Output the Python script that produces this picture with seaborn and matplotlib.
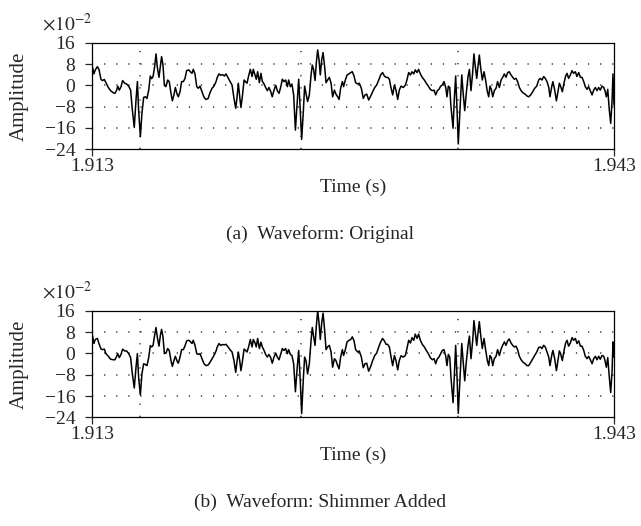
import numpy as np
import pandas as pd
import matplotlib
matplotlib.use('Agg')
import matplotlib.pyplot as plt
import seaborn as sns

# ============================
# 数据（幅值单位: 1e-2，时间单位: ms，起点 1.913 s）
# ============================
t_start = 1.913
t_end = 1.943

t_ms = [
    0.00, 0.11, 0.19, 0.31, 0.40, 0.52, 0.61, 0.71, 0.80, 0.94,
    1.07, 1.23, 1.32, 1.42, 1.48, 1.57, 1.67, 1.76, 1.88, 1.99,
    2.11, 2.22, 2.32, 2.43, 2.53, 2.61, 2.68, 2.78, 2.87, 2.97,
    3.07, 3.16, 3.26, 3.35, 3.43, 3.51, 3.60, 3.68, 3.75, 3.85,
    3.93, 4.00, 4.08, 4.16, 4.25, 4.35, 4.44, 4.54, 4.62, 4.71,
    4.79, 4.89, 4.96, 5.06, 5.15, 5.25, 5.34, 5.44, 5.56, 5.65,
    5.75, 5.82, 5.92, 6.02, 6.11, 6.21, 6.32, 6.44, 6.55, 6.67,
    6.78, 6.90, 7.01, 7.13, 7.20, 7.30, 7.39, 7.51, 7.61, 7.70,
    7.82, 7.93, 8.05, 8.16, 8.26, 8.33, 8.41, 8.49, 8.56, 8.64,
    8.74, 8.83, 8.91, 9.00, 9.10, 9.20, 9.27, 9.37, 9.44, 9.52,
    9.62, 9.71, 9.79, 9.89, 9.98, 10.08, 10.17, 10.27, 10.36, 10.46,
    10.56, 10.65, 10.75, 10.84, 10.94, 11.03, 11.13, 11.23, 11.30, 11.40,
    11.49, 11.59, 11.69, 11.78, 11.88, 11.97, 12.05, 12.15, 12.22, 12.30,
    12.39, 12.49, 12.59, 12.66, 12.74, 12.82, 12.89, 12.97, 13.05, 13.12,
    13.20, 13.28, 13.37, 13.45, 13.54,
    13.64, 13.74, 13.83, 13.93, 14.02, 14.12, 14.20, 14.29, 14.39, 14.46,
    14.56, 14.66, 14.77, 14.87, 14.96, 15.06, 15.15, 15.27, 15.36, 15.48,
    15.59, 15.69, 15.79, 15.90, 16.02, 16.13, 16.25, 16.36, 16.48, 16.59,
    16.70, 16.80, 16.90, 16.99, 17.09, 17.18, 17.28, 17.38, 17.47, 17.57,
    17.66, 17.76, 17.89, 18.01, 18.10, 18.20, 18.30, 18.39, 18.49, 18.58,
    18.68, 18.77, 18.87, 18.98, 19.10, 19.21, 19.33, 19.44, 19.56, 19.66,
    19.75, 19.85, 19.94, 20.04, 20.13, 20.23, 20.33, 20.40, 20.48, 20.56,
    20.63, 20.75, 20.82, 20.90, 20.98, 21.05, 21.15, 21.25, 21.34, 21.42,
    21.51, 21.61, 21.69, 21.78, 21.88, 21.95, 22.03, 22.11, 22.18, 22.26,
    22.34, 22.43, 22.53, 22.62, 22.72, 22.80, 22.87, 22.95, 23.03, 23.12,
    23.22, 23.31, 23.41, 23.51, 23.60, 23.70, 23.79, 23.89, 23.98, 24.08,
    24.18, 24.27, 24.37, 24.46, 24.56, 24.66, 24.77, 24.89, 25.00, 25.10,
    25.21, 25.33, 25.44, 25.56, 25.67, 25.77, 25.86, 25.96, 26.05, 26.15,
    26.25, 26.32, 26.42, 26.49, 26.59, 26.69, 26.78, 26.86, 26.93, 27.03,
    27.13, 27.22, 27.30, 27.39, 27.49, 27.59, 27.68, 27.78, 27.87, 27.97,
    28.07, 28.16, 28.26, 28.35, 28.45, 28.54, 28.64, 28.74, 28.83, 28.93,
    29.02, 29.12, 29.21, 29.31, 29.41, 29.48, 29.56, 29.64, 29.73, 29.81,
    29.89, 29.94, 30.00,
]

amp_orig = [
    7.6, 4.3, 5.8, 7.0, 6.0, 2.2, 1.8, 2.2, 1.0, -0.8,
    -2.0, -2.8, -3.0, -1.8, -0.3, -1.8, -0.5, 1.8, 0.8, 0.5,
    -0.3, -1.8, -9.3, -15.8, -5.5, 1.4, -9.3, -19.3, -10.5, -4.5,
    -4.3, -4.9, -1.8, 3.5, 2.5, 3.3, 7.0, 11.8, 7.0, 3.0,
    7.0, 10.8, 7.6, 0.0, -0.5, 2.0, 1.4, -3.0, -5.8, -3.6,
    -0.8, -3.3, -4.3, -2.4, 1.4, 1.4, 2.5, 5.5, 5.8, 5.1,
    4.5, 6.0, 4.3, -0.5, -1.1, -0.3, -2.4, -4.5, -5.3, -5.0,
    -2.8, -1.1, -0.3, 1.4, 3.0, 4.3, 3.8, 4.0, 3.5, 4.3,
    2.8, 1.5, 0.1, -4.9, -8.6, -4.9, 0.8, -4.3, -8.3, -4.3,
    2.0, 1.3, 0.8, 3.5, 6.0, 3.3, 6.0, 3.9, 2.3, 5.1,
    1.0, 4.5, 1.5, 0.5, -0.8, -2.0, -0.8, -2.3, -4.3, -1.8,
    0.0, -2.0, -3.0, -0.8, 2.3, 1.4, 2.0, -0.5, 2.0, -0.5,
    0.5, -3.6, -16.8, -8.0, 2.3, -9.3, -20.3, -9.3, -0.3, -3.0,
    -6.1, -3.6, 3.9, 7.6, 5.8, 1.8, 8.3, 13.3, 9.5, 3.9,
    9.5, 12.3, 7.0, 1.0, 2.0,
    3.0, 0.8, -4.3, -1.8, -3.3, -4.3, -5.3, -1.1, 1.4, -0.5,
    2.0, 3.9, 4.3, 4.8, 5.1, 3.5, 1.0, 0.5, 0.8, -1.1,
    -4.9, -3.6, -3.3, -5.5, -4.0, -2.4, -0.8, 0.1, 2.0, 3.9,
    4.8, 3.5, 3.0, 3.0, 2.3, -0.8, -3.6, 0.1, -1.8, -5.3,
    -1.8, -0.3, -0.8, 0.1, 2.0, 4.8, 3.9, 5.1, 4.3, 5.8,
    4.8, 6.0, 4.3, 3.0, 2.0, 0.8, -0.3, -1.5, -2.0, -1.8,
    -3.6, -2.0, -1.5, -0.3, 0.1, 1.4, -0.8, -4.3, -0.3, -0.8,
    -8.0, -16.1, -5.5, 3.5, -9.3, -22.0, -9.3, 3.9, -3.6, -9.5,
    -3.0, 3.3, 6.0, -2.0, 5.1, 11.8, 7.0, 2.6, 7.0, 11.4,
    6.4, 2.0, 5.1, 2.0, -2.4, -4.3, -0.3, -1.5, -4.3, -2.0,
    -1.1, 1.4, -0.8, 2.0, 3.0, 4.3, 3.0, 4.8, 5.1, 3.9,
    3.0, 2.3, 2.6, 1.4, -0.8, -2.0, -2.8, -3.3, -4.0, -4.3,
    -3.6, -2.4, -1.1, -0.3, 2.0, 2.6, 2.0, 3.3, 2.6, 1.4,
    -0.8, -4.3, -0.5, 1.4, -1.8, -5.8, -2.4, 0.8, -0.3, -2.4,
    1.0, 3.5, 4.5, 2.6, 3.9, 5.5, 4.5, 5.1, 3.3, 4.8,
    3.0, 3.0, 1.4, -0.5, -1.5, -0.5, -2.0, -3.6, -1.8, -0.8,
    -2.0, -0.8, -1.8, -0.3, -0.8, -2.0, -4.3, -1.5, -9.3, -14.3,
    -5.5, 4.3, -7.4,
]

amp_shimmer = [
    7.7, 3.7, 5.2, 5.6, 3.7, 1.6, 1.4, 1.6, -0.1, -1.1,
    -2.2, -2.4, -2.4, -1.1, -0.1, -1.6, -0.4, 1.6, 0.9, 0.9,
    -0.1, -1.6, -7.7, -13.0, -5.2, -0.1, -9.0, -15.6, -7.7, -3.9,
    -4.2, -4.6, -1.6, 2.9, 2.4, 3.0, 6.8, 9.7, 6.2, 2.7,
    6.8, 9.0, 6.2, -0.1, 0.1, 1.8, 1.1, -2.7, -4.9, -2.7,
    -1.1, -2.9, -3.7, -1.4, 1.4, 1.4, 2.7, 4.7, 4.9, 4.4,
    3.7, 4.9, 3.0, -0.1, -0.4, -0.1, -2.0, -3.9, -4.6, -4.4,
    -3.4, -2.0, -0.8, 0.9, 2.4, 3.7, 3.0, 3.3, 3.2, 3.4,
    2.4, 1.4, 0.5, -2.7, -7.1, -3.3, 0.5, -2.7, -6.5, -3.3,
    1.6, 1.1, 0.5, 2.4, 5.2, 2.4, 5.2, 3.9, 2.4, 5.6,
    1.8, 4.2, 2.4, 1.1, -0.4, -1.4, -0.4, -1.6, -3.7, -1.4,
    0.1, -1.4, -2.4, -0.4, 1.8, 1.1, 1.8, -0.1, 1.4, -0.4,
    -0.8, -3.9, -14.4, -6.5, 1.1, -10.3, -22.6, -9.0, -1.4, -2.7,
    -7.7, -3.9, 4.9, 9.7, 6.2, 3.0, 10.0, 16.0, 11.3, 5.2,
    11.3, 15.1, 8.7, 1.4, 2.4,
    3.0, 0.5, -5.2, -2.0, -2.7, -4.6, -5.8, -1.4, 1.4, -0.8,
    1.4, 4.3, 4.9, 5.2, 6.2, 4.7, 1.4, 0.5, 0.9, -1.4,
    -5.4, -3.9, -3.7, -6.7, -4.9, -2.7, -0.8, 0.1, 2.4, 4.3,
    5.6, 4.7, 3.4, 3.4, 2.4, -1.1, -4.6, -0.8, -2.7, -6.2,
    -2.7, -0.9, -1.4, -0.8, 1.8, 4.9, 3.9, 5.9, 4.9, 7.2,
    5.6, 7.2, 4.9, 3.4, 2.4, 1.1, -0.1, -1.6, -2.4, -2.0,
    -3.9, -2.0, -1.4, -0.1, 1.1, 1.4, -1.1, -4.6, -0.4, -1.4,
    -9.0, -18.5, -9.0, 3.0, -9.0, -22.5, -9.0, 3.7, -3.9, -10.3,
    -3.3, 3.0, 6.5, -2.0, 4.9, 12.3, 7.5, 3.0, 7.5, 11.9,
    6.8, 1.8, 5.6, 1.4, -2.7, -4.6, -0.8, -1.6, -4.6, -2.0,
    -1.1, 1.4, -0.8, 1.6, 3.0, 4.3, 3.0, 4.7, 5.4, 3.9,
    3.0, 2.4, 2.7, 1.4, -1.1, -2.4, -3.3, -3.9, -4.6, -4.6,
    -3.4, -2.0, -0.8, 0.5, 2.2, 2.4, 1.8, 3.0, 2.4, 0.5,
    -1.4, -4.6, -0.8, 1.1, -2.0, -6.5, -2.7, 0.9, -0.1, -2.7,
    1.1, 3.9, 4.9, 2.7, 3.9, 5.9, 4.9, 5.6, 3.7, 4.7,
    2.7, 2.7, 1.1, -1.1, -2.0, -1.1, -2.4, -3.9, -2.0, -1.1,
    -2.4, -1.1, -2.2, -0.8, -1.1, -2.7, -5.2, -1.6, -9.0, -14.7,
    -6.5, 4.3, -1.4,
]

# 声门闭合时刻标记 (ms)
gci_ms = [2.76, 12.01, 21.04]

y_ticks = [-24, -16, -8, 0, 8, 16]
grid_levels = [-16, -8, 0, 8]
captions = ['(a)  Waveform: Original', '(b)  Waveform: Shimmer Added']

# ============================
# 绘图风格
# ============================
sns.set_style('white')
plt.rcParams['font.family'] = ['Liberation Serif', 'DejaVu Serif']
plt.rcParams['mathtext.fontset'] = 'stix'
plt.rcParams['axes.unicode_minus'] = True
fs = 14

time_s = t_start + np.array(t_ms) / 1000.0
df = pd.DataFrame({'time': time_s, 'orig': amp_orig, 'shimmer': amp_shimmer})

fig = plt.figure(figsize=(6.41, 5.26), dpi=100)
ax_a = fig.add_axes([0.1435, 0.7162, 0.8144, 0.2026])
ax_b = fig.add_axes([0.1435, 0.2066, 0.8144, 0.2027])

dot_style = dict(color='#555555', lw=1.3, linestyle=(0, (0.7, 6.0)))

for ax, col, cap, cap_y in zip([ax_a, ax_b], ['orig', 'shimmer'], captions,
                               [1 - 234 / 526, 1 - 502 / 526]):
    for lv in grid_levels:
        ax.axhline(lv, **dot_style, zorder=1)
    for g in gci_ms:
        ax.axvline(t_start + g / 1000.0, **dot_style, zorder=1)

    sns.lineplot(data=df, x='time', y=col, ax=ax, color='black', lw=1.1,
                 sort=False, estimator=None, zorder=3)

    ax.set_xlim(t_start, t_end)
    ax.set_ylim(-24, 16)
    ax.set_xticks([t_start, t_end])
    ax.set_xticklabels(['1.913', '1.943'], fontsize=fs)
    ax.set_yticks(y_ticks)
    ax.set_yticklabels([str(v).replace('-', '\u2212') for v in y_ticks], fontsize=fs)
    ax.tick_params(axis='x', direction='out', length=5, width=0.9, pad=1, bottom=True)
    ax.tick_params(axis='y', direction='out', length=5, width=0.9, pad=7, left=True)

    for sp in ax.spines.values():
        sp.set_visible(True)
        sp.set_color('black')
        sp.set_linewidth(0.9)

    ax.set_xlabel('Time (s)', fontsize=fs)
    ax.xaxis.set_label_coords(0.5, -0.28)
    ax.set_ylabel('Amplitude', fontsize=fs + 1)
    ax.yaxis.set_label_coords(-0.121, 0.5)

    ax.text(-0.096, 1.08, r'$\times10^{-2}$', transform=ax.transAxes,
            fontsize=fs, ha='left', va='bottom')

    fig.text(0.5, cap_y, cap, fontsize=fs, ha='center', va='center')

plt.savefig('out.png', dpi=100)
plt.close()
